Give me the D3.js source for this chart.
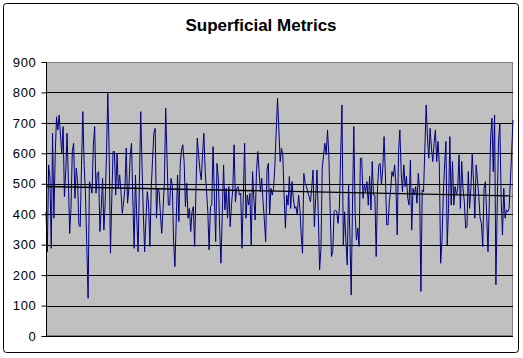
<!DOCTYPE html>
<html><head><meta charset="utf-8">
<script src="https://cdn.jsdelivr.net/npm/d3@7"></script>
<style>html,body{margin:0;padding:0;background:#fff;}svg{display:block;}</style>
</head><body>
<div id="chart"></div>
<script>
const title = "Superficial Metrics";
const yTicks = [0,100,200,300,400,500,600,700,800,900];
const values = [
408,277,562,520,288,666,387,595,720,677,726,660,600,688,458,540,666,513,337,420,606,633,452,551,507,365,359,560,737,562,469,300,124,507,491,469,628,688,469,534,540,343,420,518,348,441,600,797,606,272,450,606,606,463,600,
485,529,474,403,440,485,617,436,485,595,633,450,288,529,387,277,500,737,560,398,277,387,474,430,294,485,580,666,682,387,485,474,398,337,420,507,748,584,430,430,518,496,310,228,380,529,376,562,611,628,573,425,502,387,419,343,408,
425,294,480,650,595,545,513,595,666,540,480,408,283,425,430,622,460,310,567,518,354,239,400,562,414,485,387,491,359,430,485,628,441,485,491,463,469,288,460,633,387,463,430,469,299,540,452,381,540,606,540,474,518,441,380,310,545,567,
398,485,463,485,562,671,781,682,573,617,595,463,354,463,430,524,419,507,452,419,425,398,463,419,332,272,534,502,491,474,458,441,485,545,359,452,545,398,217,288,551,595,633,595,677,595,419,261,277,408,414,408,370,419,595,759,299,408,
310,233,496,332,135,430,688,398,315,354,294,584,584,452,496,474,507,430,524,414,573,463,463,261,485,562,567,496,551,655,529,365,365,441,480,540,524,562,496,332,606,677,540,474,562,491,524,452,430,578,348,485,463,491,436,534,
480,146,480,474,617,759,650,584,682,617,573,633,677,573,639,562,239,310,463,562,639,299,419,655,430,573,430,491,463,485,595,419,573,485,441,354,359,540,419,485,600,507,387,562,513,458,387,370,294,485,507,398,277,441,650,715,540,726,168,
430,639,699,452,332,485,387,414,408,419,507,606,710
];
// linear trend line, value at first and last point
const trendValues = [491, 460];

const W = 523, H = 358;
const svg = d3.select("#chart").append("svg").attr("width", W).attr("height", H);
svg.append("rect").attr("x",3.5).attr("y",3.5).attr("width",515).attr("height",349)
  .attr("rx",3).attr("fill","#fff").attr("stroke","#000").attr("stroke-width",1);

const L = 46, R = 513, T = 62, B = 336;
const x = d3.scaleLinear().domain([0, values.length-1]).range([L, R]);
const y = d3.scaleLinear().domain([0, 900]).range([B, T]);

svg.append("rect").attr("x",L+0.5).attr("y",T+0.5).attr("width",R-L-1).attr("height",B-T-1)
  .attr("fill","#c0c0c0").attr("stroke","#808080");

// gridlines
svg.append("g").selectAll("line").data(yTicks.filter(t=>t>0 && t<900)).join("line")
  .attr("x1",L).attr("x2",R).attr("y1",d=>Math.round(y(d))+0.5).attr("y2",d=>Math.round(y(d))+0.5)
  .attr("stroke","#000").attr("stroke-width",1);

// data line
const line = d3.line().x((d,i)=>x(i)).y(d=>y(d));
svg.append("path").datum(values).attr("d",line).attr("fill","none")
  .attr("stroke","#000080").attr("stroke-width",1);

// trend line
svg.append("line").attr("x1",x(0)).attr("x2",x(values.length-1))
  .attr("y1",y(trendValues[0])).attr("y2",y(trendValues[1]))
  .attr("stroke","#000").attr("stroke-width",1.3);

// axes
const yAxis = d3.axisLeft(y).tickValues(yTicks).tickSize(5).tickPadding(5).tickFormat(d3.format("d"));
const ga = svg.append("g").attr("transform",`translate(${L+0.5},0)`).call(yAxis);
ga.select(".domain").attr("stroke","#000").attr("d",`M0,${T}V${B}`);
ga.selectAll(".tick line").attr("stroke","#000");
ga.selectAll("text").attr("font-family","Liberation Sans, Arial, sans-serif").attr("font-size",13)
  .attr("letter-spacing","0.7px").attr("fill","#000");

svg.append("line").attr("x1",L).attr("x2",R).attr("y1",B+0.5).attr("y2",B+0.5).attr("stroke","#000");

svg.append("text").attr("x",261).attr("y",30.5).attr("text-anchor","middle")
  .attr("font-family","Liberation Sans, Arial, sans-serif").attr("font-weight","bold").attr("font-size",17)
  .text(title);
</script>
</body></html>
